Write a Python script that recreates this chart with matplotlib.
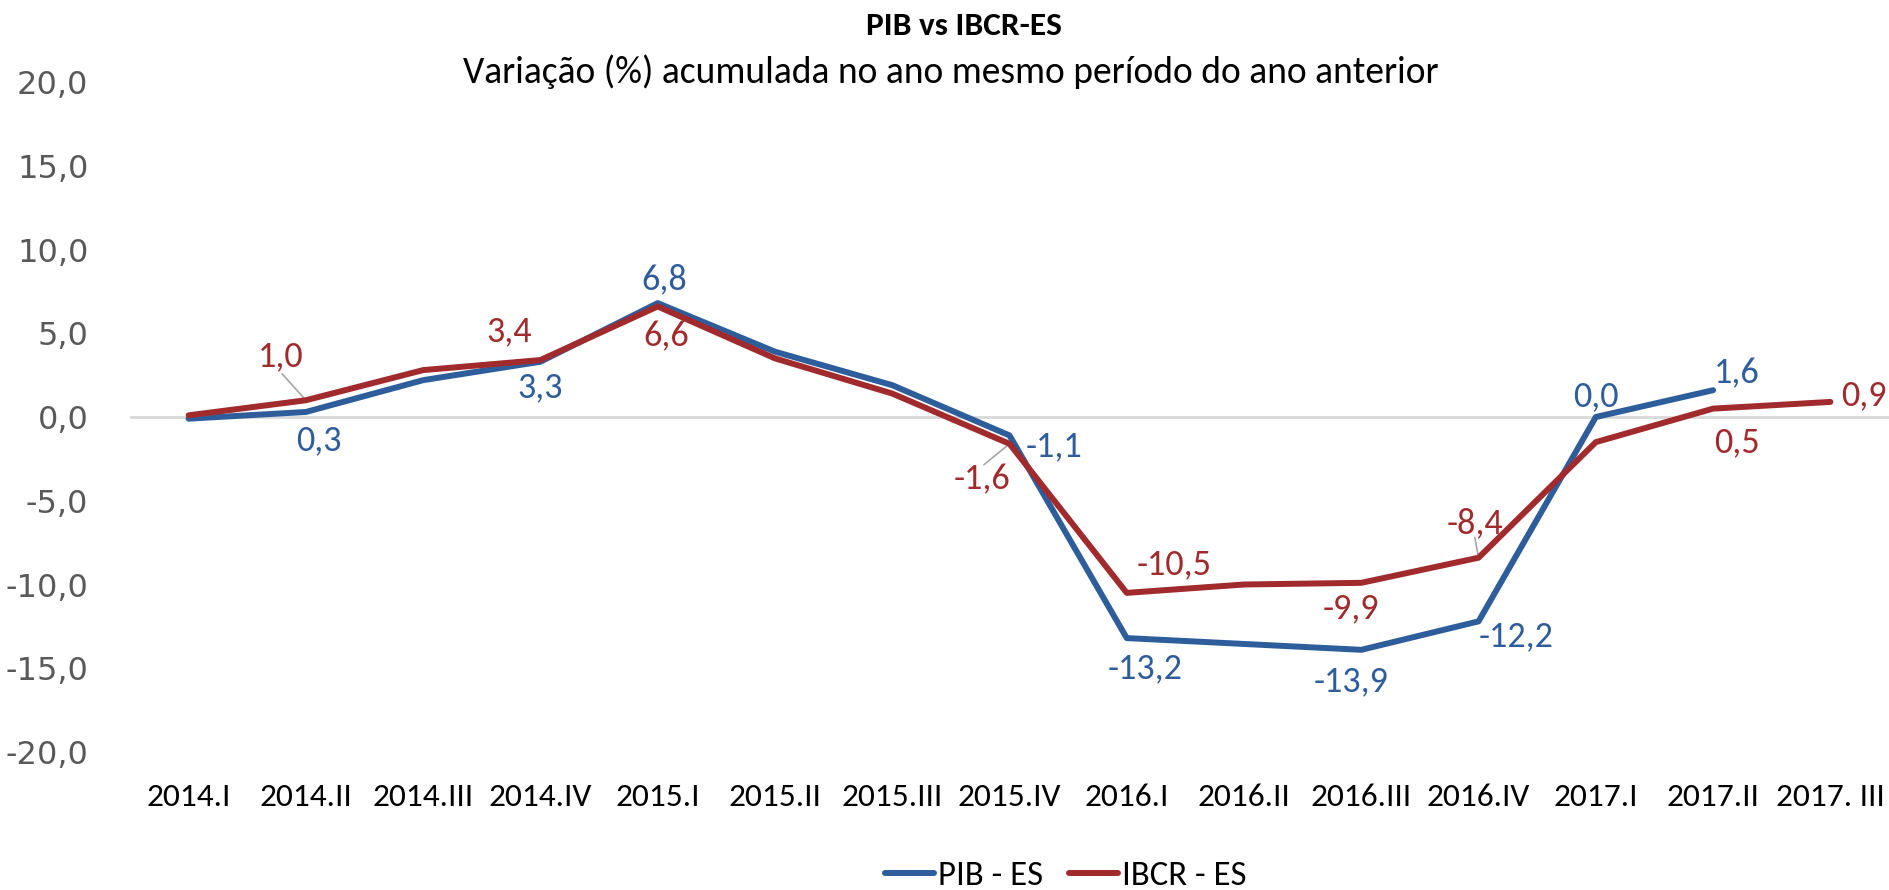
import matplotlib
matplotlib.use("Agg")
import matplotlib.pyplot as plt

# data
periods = ["2014.I", "2014.II", "2014.III", "2014.IV", "2015.I", "2015.II", "2015.III",
           "2015.IV", "2016.I", "2016.II", "2016.III", "2016.IV", "2017.I", "2017.II", "2017. III"]
pib = [-0.1, 0.3, 2.2, 3.3, 6.8, 3.9, 1.9, -1.1, -13.2, -13.55, -13.9, -12.2, 0.0, 1.6]
ibcr = [0.1, 1.0, 2.8, 3.4, 6.6, 3.5, 1.4, -1.6, -10.5, -10.0, -9.9, -8.4, -1.5, 0.5, 0.9]

# which points get a data label: index -> (dx, dy) offset in pixels
pib_labels = {1: (13, -28), 3: (0, -26), 4: (7, 24), 7: (45, -11), 8: (18, -30),
              10: (-10, -31), 11: (37, -15), 12: (0, 21), 13: (24, 17)}
ibcr_labels = {1: (-25, 44), 3: (-31, 29), 4: (9, -30), 7: (-27, -35), 8: (47, 29),
               10: (-10, -25), 11: (-4, 34), 13: (24, -34), 14: (34, 7)}
ibcr_leaders = [1, 7, 11]

blue = "#2E5D9B"
red = "#A12A2C"
narrow = ["Carlito", "Lato", "DejaVu Sans"]

fig = plt.figure(figsize=(18.9, 8.9), dpi=100)
ax = fig.add_axes([130 / 1890, 1 - 752 / 890, 1759 / 1890, 670 / 890])

x_pib = list(range(len(pib)))
x_ibcr = list(range(len(ibcr)))
ax.axhline(0, color="#D9D9D9", linewidth=2, zorder=1)
l1, = ax.plot(x_pib, pib, color=blue, linewidth=4.3, solid_capstyle="round", zorder=3)
l2, = ax.plot(x_ibcr, ibcr, color=red, linewidth=4.3, solid_capstyle="round", zorder=4)

def fmt(v):
    return ("%.1f" % v).replace(".", ",").replace("-0,0", "0,0")

for i, (dx, dy) in pib_labels.items():
    ax.annotate(fmt(pib[i]), (i, pib[i]), xytext=(dx, dy), textcoords="offset pixels",
                ha="center", va="center", color=blue, fontsize=26, family=narrow, zorder=5)
for i, (dx, dy) in ibcr_labels.items():
    ax.annotate(fmt(ibcr[i]), (i, ibcr[i]), xytext=(dx, dy), textcoords="offset pixels",
                ha="center", va="center", color=red, fontsize=26, family=narrow, zorder=5)
    if i in ibcr_leaders:
        # small grey leader line from label to point
        ax.annotate("", (i, ibcr[i]), xytext=(dx * 0.95, dy * 0.6), textcoords="offset pixels",
                    arrowprops=dict(arrowstyle="-", color="#A6A6A6", lw=1.2, shrinkA=0, shrinkB=0))

ax.set_xlim(-0.5, len(periods) - 0.5)
ax.set_ylim(-20, 20)
ax.set_xticks(range(len(periods)))
ax.set_xticklabels(periods, family=narrow, fontsize=24, color="black")
ax.set_yticks([-20, -15, -10, -5, 0, 5, 10, 15, 20])
ax.set_yticklabels([fmt(v) for v in [-20, -15, -10, -5, 0, 5, 10, 15, 20]],
                   fontsize=23, color="#595959")
ax.tick_params(axis="both", length=0)
ax.tick_params(axis="x", pad=22)
ax.tick_params(axis="y", pad=30)
for s in ax.spines.values():
    s.set_visible(False)

fig.text(964 / 1890, 1 - 26 / 890, "PIB vs IBCR-ES", ha="center", va="center",
         fontsize=24, fontweight="bold", family=narrow, color="black")
fig.text(951 / 1890, 1 - 72 / 890, "Variação (%) acumulada no ano mesmo período do ano anterior",
         ha="center", va="center", fontsize=27, family=narrow, color="black")

fig.legend([l1, l2], ["PIB - ES", "IBCR - ES"], loc="center", bbox_to_anchor=(1066 / 1890, 1 - 876 / 890),
           ncol=2, frameon=False, prop={"family": narrow, "size": 25}, handlelength=1.4,
           handletextpad=0.12, columnspacing=0.75, borderpad=0)

fig.savefig("out.png", dpi=100)
